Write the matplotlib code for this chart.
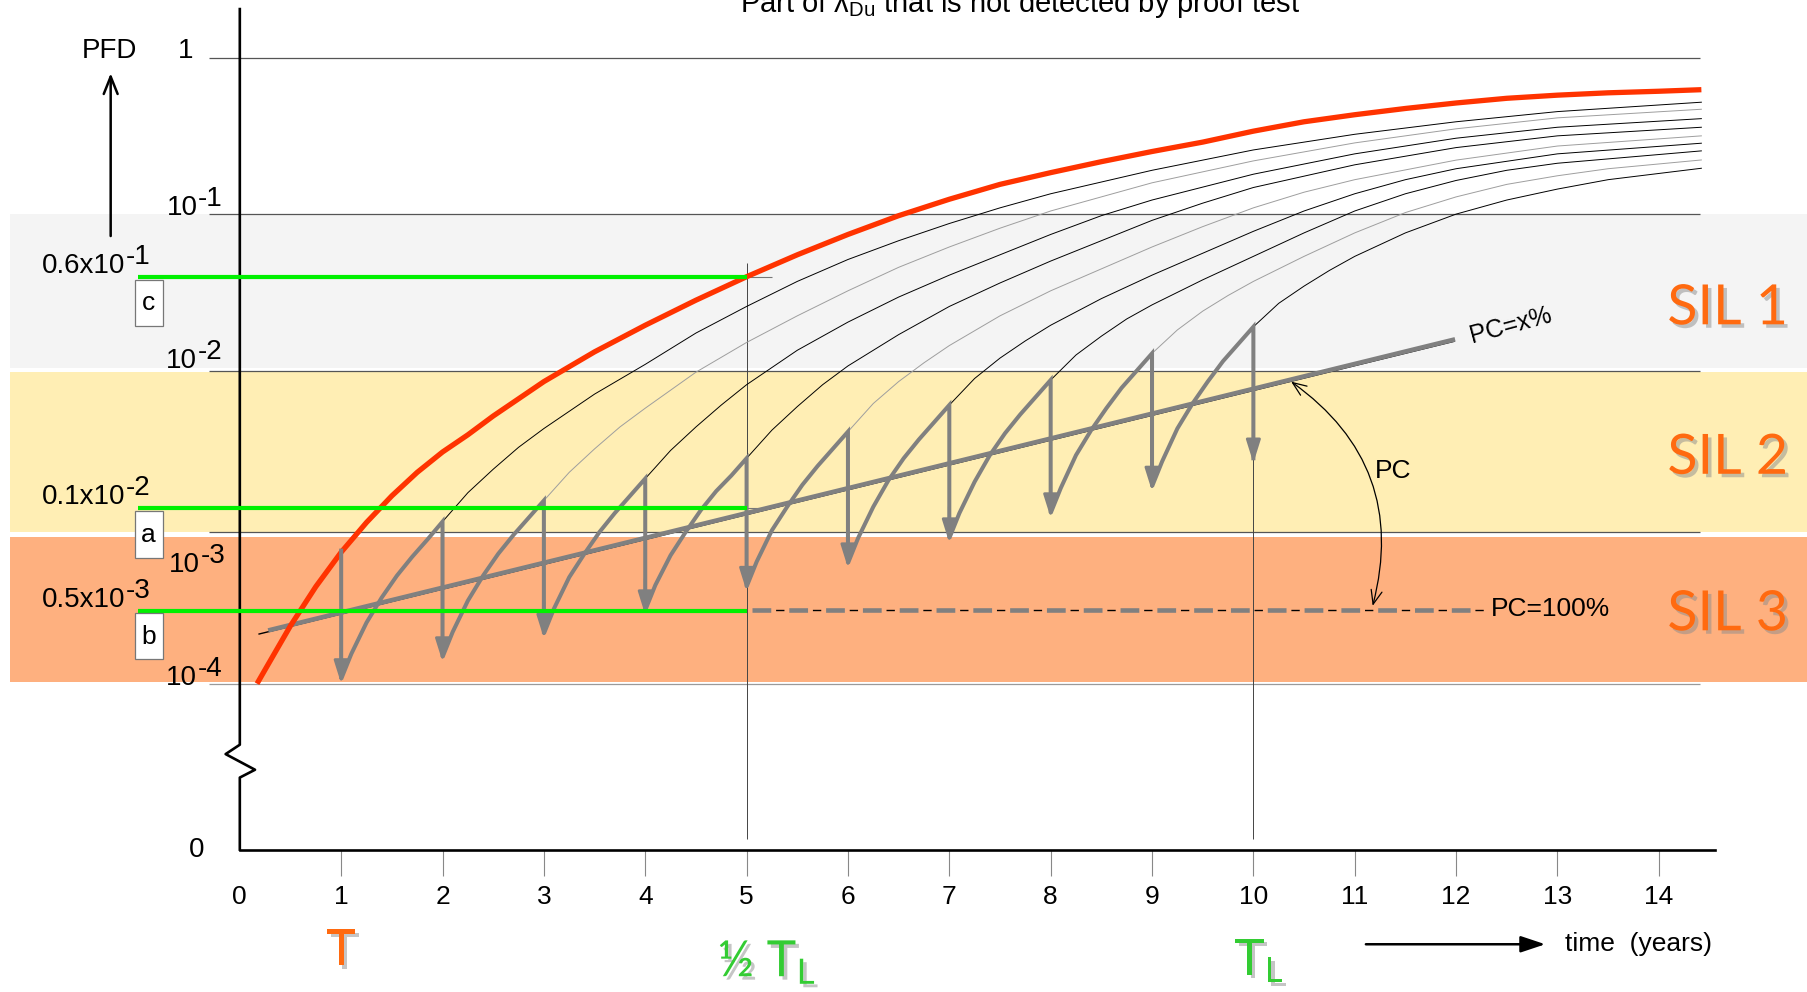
#!/usr/bin/env python3
"""PFD over time with proof tests, SIL bands and proof-test coverage."""

import matplotlib
matplotlib.use('Agg')
from matplotlib import pyplot as plt
import matplotlib.patheffects as pe
from matplotlib.patches import Rectangle, FancyArrowPatch
from matplotlib.transforms import ScaledTranslation

# values are log10(PFD), time in years
RED_T = [0.17, 0.25, 0.5, 0.75, 1.0, 1.25, 1.5, 1.75, 2.0, 2.25, 2.5, 2.75,
         3.0, 3.5, 4.0, 4.5, 5.0, 5.5, 6.0, 6.5, 7.0, 7.5, 8.0, 8.5, 9.0,
         9.5, 10.0, 10.5, 11.0, 11.5, 12.0, 12.5, 13.0, 13.5, 14.0, 14.42]
RED_LOG = [-4.00, -3.91, -3.63, -3.38, -3.16, -2.97, -2.80, -2.65, -2.52,
           -2.41, -2.29, -2.18, -2.07, -1.88, -1.71, -1.55, -1.40, -1.26,
           -1.13, -1.01, -0.905, -0.81, -0.735, -0.665, -0.60, -0.54, -0.47,
           -0.41, -0.365, -0.325, -0.29, -0.26, -0.24, -0.225, -0.215, -0.205]

TEST_YEARS = [1, 2, 3, 4, 5, 6, 7, 8, 9, 10]
PEAK_LOG = [-3.15, -2.965, -2.83, -2.69, -2.56, -2.39, -2.22, -2.06, -1.89, -1.72]
LOW_LOG = [-3.97, -3.83, -3.68, -3.53, -3.38, -3.23, -3.07, -2.91, -2.74, -2.56]
# rise after each test, read at these offsets (years) after the test
RISE_DT = [0.1, 0.25, 0.4, 0.55, 0.7, 0.85]
RISE_LOG = [
    [-3.81, -3.61, -3.45, -3.31, -3.19, -3.08],
    [-3.67, -3.47, -3.31, -3.17, -3.05, -2.94],
    [-3.52, -3.32, -3.17, -3.03, -2.91, -2.80],
    [-3.37, -3.18, -3.03, -2.89, -2.77, -2.67],
    [-3.22, -3.02, -2.87, -2.73, -2.61, -2.50],
    [-3.07, -2.87, -2.70, -2.56, -2.44, -2.33],
    [-2.91, -2.71, -2.54, -2.40, -2.28, -2.17],
    [-2.75, -2.54, -2.38, -2.24, -2.11, -2.00],
    [-2.58, -2.37, -2.21, -2.07, -1.94, -1.83],
]

THIN_T = [
    [2, 2.25, 2.5, 2.75, 3, 3.5, 4, 4.5, 5, 5.5, 6, 6.5, 7, 7.5, 8, 9, 10, 11, 12, 13, 14.42],
    [3, 3.25, 3.5, 3.75, 4, 4.5, 5, 5.5, 6, 6.5, 7, 7.5, 8, 9, 10, 11, 12, 13, 14.42],
    [4, 4.25, 4.5, 4.75, 5, 5.5, 6, 6.5, 7, 7.5, 8, 8.5, 9, 10, 11, 12, 13, 14.42],
    [5, 5.25, 5.5, 5.75, 6, 6.5, 7, 7.5, 8, 8.5, 9, 9.5, 10, 11, 12, 13, 14.42],
    [6, 6.25, 6.5, 6.75, 7, 7.5, 8, 8.5, 9, 9.5, 10, 10.5, 11, 12, 13, 14.42],
    [7, 7.25, 7.5, 7.75, 8, 8.5, 9, 9.5, 10, 10.5, 11, 11.5, 12, 13, 14.42],
    [8, 8.25, 8.5, 8.75, 9, 9.5, 10, 10.5, 11, 11.5, 12, 12.5, 13, 14.42],
    [9, 9.25, 9.5, 9.75, 10, 10.5, 11, 11.5, 12, 12.5, 13, 13.5, 14.42],
    [10, 10.25, 10.5, 10.75, 11, 11.5, 12, 12.5, 13, 13.5, 14.42],
]
THIN_LOG = [
    [-2.965, -2.78, -2.63, -2.49, -2.37, -2.15, -1.96, -1.76, -1.59, -1.43, -1.29,
     -1.17, -1.06, -0.96, -0.87, -0.72, -0.59, -0.49, -0.41, -0.345, -0.285],
    [-2.83, -2.65, -2.50, -2.36, -2.24, -2.01, -1.82, -1.65, -1.49, -1.34, -1.21,
     -1.09, -0.98, -0.80, -0.66, -0.545, -0.455, -0.385, -0.33],
    [-2.69, -2.51, -2.36, -2.22, -2.09, -1.87, -1.69, -1.53, -1.39, -1.26, -1.13,
     -1.01, -0.91, -0.745, -0.615, -0.515, -0.445, -0.39],
    [-2.56, -2.38, -2.23, -2.09, -1.97, -1.77, -1.59, -1.44, -1.30, -1.17, -1.04,
     -0.93, -0.83, -0.685, -0.575, -0.50, -0.445],
    [-2.39, -2.21, -2.07, -1.95, -1.84, -1.65, -1.49, -1.35, -1.21, -1.08, -0.96,
     -0.86, -0.78, -0.655, -0.565, -0.50],
    [-2.22, -2.05, -1.92, -1.81, -1.71, -1.54, -1.39, -1.25, -1.11, -0.98, -0.87,
     -0.78, -0.71, -0.615, -0.547],
    [-2.06, -1.90, -1.78, -1.67, -1.58, -1.42, -1.27, -1.12, -0.98, -0.87, -0.785,
     -0.72, -0.675, -0.596],
    [-1.89, -1.74, -1.62, -1.52, -1.43, -1.27, -1.12, -0.99, -0.89, -0.81, -0.755,
     -0.71, -0.654],
    [-1.72, -1.57, -1.46, -1.36, -1.27, -1.12, -1.00, -0.91, -0.84, -0.78, -0.707],
]
THIN_COLORS = ['k', '0.62', 'k', 'k', '0.62', 'k', 'k', '0.62', 'k']

PC_T = [0.28, 11.99]
PC_LOG = [-3.66, -1.80]
PC100_T = [5.05, 12.28]
PC100_LOG = -3.53

GREEN_LOG = [-1.40, -2.88, -3.535]
GREEN_BASE = ['0.6x10', '0.1x10', '0.5x10']
GREEN_EXP = ['-1', '-2', '-3']
BOX_TEXT = ['c', 'a', 'b']
BOX_TOP = [-1.42, -2.90, -3.55]

GRID_LOG = [0, -1, -2, -3.03, -4]
YEXP = ['-1', '-2', '-3', '-4']
YEXP_T = [-0.417, -0.42, -0.39, -0.42]
YEXP_BASELINE = [-1.005, -1.983, -3.285, -4.01]
ZERO_LOG = -5.06
XTICKS = list(range(15))

SIL_NAMES = ['SIL 1', 'SIL 2', 'SIL 3']
SIL_LOG = [-1.605, -2.56, -3.56]
SIL_BANDS = [(-1.0, -1.985), (-2.01, -3.03), (-3.06, -3.99)]
SIL_COLORS = ['#f4f4f4', '#ffeeb4', '#feb07f']

BREAK_T = [0, 0, -0.14, 0.15, 0, 0]
BREAK_LOG = [0.31, -4.39, -4.45, -4.55, -4.60, ZERO_LOG]

X0, X1 = -2.366, 15.472
Y0, Y1 = -5.970, 0.368


def sup_text(ax, x, y, base, exp, size=20):
    """Base text ending at x, exponent in full size raised after it."""
    ax.text(x, y, base, ha='right', va='baseline', fontsize=size, zorder=8)
    ax.annotate(exp, xy=(x, y), xytext=(0.5, 6.5), textcoords='offset points',
                ha='left', va='baseline', fontsize=size, zorder=8)


def main():
    plt.rcParams['font.family'] = ['Liberation Sans', 'DejaVu Sans']
    plt.rcParams['mathtext.default'] = 'regular'
    plt.rcParams['lines.scale_dashes'] = False

    fig = plt.figure(figsize=(18.08, 9.92), dpi=100)
    ax = fig.add_axes([0, 0, 1, 1])
    ax.set_xlim(X0, X1)
    ax.set_ylim(Y0, Y1)
    ax.axis('off')

    # SIL bands
    band_x0 = -2.27
    for (hi, lo), col in zip(SIL_BANDS, SIL_COLORS):
        ax.fill_between([band_x0, X1], lo, hi, color=col, lw=0, zorder=0)

    # grid lines
    ax.hlines(GRID_LOG[:-1], -0.3, 14.41, colors='#555555', lw=0.9, zorder=1)
    ax.hlines(GRID_LOG[-1], -0.3, 14.41, colors='#9a9a9a', lw=0.9, zorder=1)

    # vertical marker lines at 1/2 TL and TL
    ax.vlines(5, -4.99, -1.31, colors='#444444', lw=0.7, zorder=1)
    ax.vlines(10, -4.99, -1.71, colors='#444444', lw=0.7, zorder=1)
    ax.hlines(GREEN_LOG[:2], 5, 5.25, colors='#777777', lw=0.8, zorder=1)

    # axes with break
    ax.plot(BREAK_T, BREAK_LOG, color='k', lw=1.9, zorder=6)
    ax.plot([0, 14.55], [ZERO_LOG, ZERO_LOG], color='k', lw=1.9, zorder=6)
    ax.vlines(XTICKS[1:], ZERO_LOG - 0.17, ZERO_LOG, colors='#888888', lw=0.8)
    for t in XTICKS:
        ax.text(t, -5.36, str(t), ha='center', va='center', fontsize=19)
    ax.text(-0.46, 0.0, '1', ha='right', va='baseline', fontsize=20)
    ax.text(-0.43, ZERO_LOG, '0', ha='center', va='center', fontsize=20)
    for exp, t, y in zip(YEXP, YEXP_T, YEXP_BASELINE):
        sup_text(ax, t, y, '10', exp)

    # thin curves after each test
    for tt, vv, col in zip(THIN_T, THIN_LOG, THIN_COLORS):
        ax.plot(tt, vv, color=col, lw=0.7, zorder=2)

    # red curve: no proof test
    ax.plot(RED_T, RED_LOG, color='#ff3300', lw=3.8, zorder=4,
            solid_capstyle='butt')

    # PC = x% line with a thin dark shadow
    shadow = ax.transData + ScaledTranslation(-0.01, -0.02, fig.dpi_scale_trans)
    ax.plot([PC_T[0] - 0.08, PC_T[1]], [PC_LOG[0] - 0.01, PC_LOG[1]],
            color='k', lw=1.0, transform=shadow, zorder=3)
    ax.plot(PC_T, PC_LOG, color='#808080', lw=3.3, zorder=3,
            solid_capstyle='butt')

    # PC = 100% dashed line
    ax.plot(PC100_T, [PC100_LOG] * 2, color='#808080', lw=3.3,
            linestyle=(0, (13.5, 13)), dash_capstyle='butt', zorder=3)
    ax.plot(PC100_T, [PC100_LOG] * 2, color='k', lw=1.0,
            linestyle=(9.5, (6, 20.5)), dash_capstyle='butt', zorder=3)

    # saw-tooth of proof tests
    saw_t = [TEST_YEARS[0]]
    saw_v = [PEAK_LOG[0]]
    for i, k in enumerate(TEST_YEARS):
        saw_t.append(k)
        saw_v.append(LOW_LOG[i])
        if i < len(RISE_LOG):
            saw_t += [k + d for d in RISE_DT] + [TEST_YEARS[i + 1]]
            saw_v += RISE_LOG[i] + [PEAK_LOG[i + 1]]
    ax.plot(saw_t, saw_v, color='#808080', lw=2.9, zorder=5,
            solid_joinstyle='miter')
    for k, low in zip(TEST_YEARS, LOW_LOG):
        ax.annotate('', xy=(k, low - 0.03), xytext=(k, low + 0.2),
                    arrowprops=dict(arrowstyle='-|>,head_length=0.7,head_width=0.22',
                                    color='#808080', lw=2.0, mutation_scale=20,
                                    shrinkA=0, shrinkB=0), zorder=5)

    # green reference levels
    for y, base, exp, box, top in zip(GREEN_LOG, GREEN_BASE, GREEN_EXP,
                                      BOX_TEXT, BOX_TOP):
        ax.plot([-1.0, 5.0], [y, y], color='#00f000', lw=3.0, zorder=7,
                solid_capstyle='butt')
        sup_text(ax, -1.13, y + 0.025, base, exp)
        ax.add_patch(Rectangle((-1.035, top - 0.295), 0.273, 0.295,
                               facecolor='white', edgecolor='#777777',
                               lw=0.9, zorder=8))
        ax.text(-0.9, top - 0.15, box, ha='center', va='center',
                fontsize=19, zorder=9)

    # PFD axis label
    ax.annotate('', xy=(-1.274, -0.10), xytext=(-1.274, -1.14),
                arrowprops=dict(arrowstyle='->,head_length=0.5,head_width=0.2',
                                color='k', lw=1.8, mutation_scale=25,
                                shrinkA=0, shrinkB=0))
    ax.text(-1.286, 0.044, 'PFD', ha='center', va='center', fontsize=20)

    # time axis label
    ax.annotate('', xy=(12.88, -5.665), xytext=(11.11, -5.665),
                arrowprops=dict(arrowstyle='-|>,head_length=0.6,head_width=0.2',
                                color='k', lw=1.8, mutation_scale=25,
                                shrinkA=0, shrinkB=0))
    ax.text(13.8, -5.665, 'time  (years)', ha='center', va='center',
            fontsize=19)

    # title, cut off at the top edge
    ax.text(7.70, 0.29, r'Part of $\lambda_{Du}$ that is not detected by proof test',
            ha='center', va='baseline', fontsize=21,
            family=['Liberation Sans Narrow', 'Liberation Sans'])

    # PC annotations
    ax.text(12.54, -1.71, 'PC=x%', ha='center', va='center', fontsize=18,
            rotation=15, rotation_mode='anchor')
    ax.text(11.38, -2.64, 'PC', ha='center', va='center', fontsize=19)
    ax.text(12.34, -3.52, 'PC=100%', ha='left', va='center', fontsize=19)
    ax.add_patch(FancyArrowPatch((10.35, -2.06), (11.17, -3.52),
                                 connectionstyle='arc3,rad=-0.35',
                                 arrowstyle='<->,head_length=0.5,head_width=0.2',
                                 mutation_scale=20, color='k', lw=0.9,
                                 zorder=6))

    # SIL labels and time markers
    glow = [pe.SimplePatchShadow(offset=(2.5, -2.5), shadow_rgbFace='0.55',
                                 alpha=0.5), pe.Normal()]
    for name, y in zip(SIL_NAMES, SIL_LOG):
        ax.text(14.68, y, name, ha='center', va='center', fontsize=40,
                color='#ff6a10', family=['Lato', 'DejaVu Sans'],
                path_effects=glow, zorder=8)
    ax.text(1.0, -5.71, 'T', ha='center', va='center', fontsize=36,
            color='#ff6a10', family=['Lato', 'DejaVu Sans'], path_effects=glow)
    ax.text(5.2, -5.78, '½ T$_L$', ha='center', va='center', fontsize=36,
            color='#33cc33', family=['Lato', 'DejaVu Sans'], path_effects=glow)
    ax.text(10.06, -5.77, 'T$_L$', ha='center', va='center', fontsize=36,
            color='#33cc33', family=['Lato', 'DejaVu Sans'], path_effects=glow)

    fig.savefig('out.png', dpi=100)


if __name__ == '__main__':
    main()
